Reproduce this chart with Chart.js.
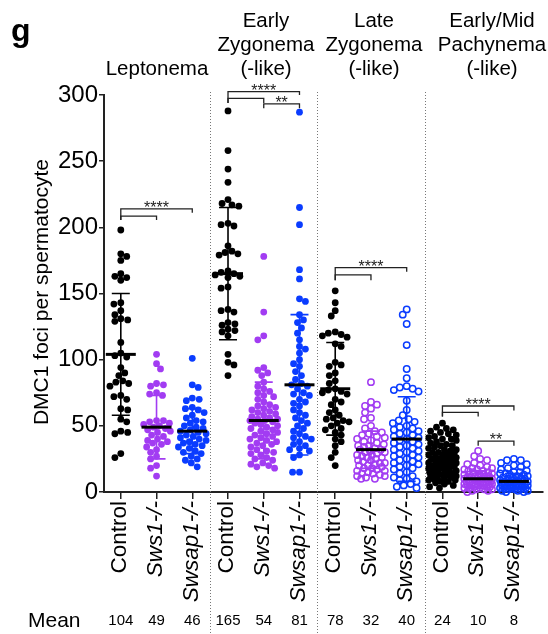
<!DOCTYPE html>
<html>
<head>
<meta charset="utf-8">
<script src="https://cdn.jsdelivr.net/npm/chart.js@4.4.0/dist/chart.umd.min.js"></script>
<style>
  html, body { margin: 0; padding: 0; background: #fff; }
  #wrap { width: 548px; height: 634px; }
</style>
</head>
<body>
<div id="wrap"><canvas id="dmc1Chart" width="548" height="634"></canvas></div>
<script>
// Stage headings and genotypes (3 columns per stage)
const stages = [['Leptonema'], ['Early', 'Zygonema', '(-like)'], ['Late', 'Zygonema', '(-like)'], ['Early/Mid', 'Pachynema', '(-like)']];
const genotypes = ['Control', 'Sws1-/-', 'Swsap1-/-'];
const means = [104, 49, 46, 165, 54, 81, 78, 32, 40, 24, 10, 8];
const sds = [46, 24, 17, 50, 29, 53, 35, 14, 32, 12, 6, 6];
const yTicks = [0, 50, 100, 150, 200, 250, 300];

// DMC1 foci per spermatocyte, one list per column
const leptoControl = [198, 180, 178, 175, 165, 163, 162, 160, 143, 142, 137, 134, 131, 130, 129, 113, 105, 103, 102, 94, 90, 88, 84, 83, 82, 80, 73, 72, 70, 63, 62, 55, 53, 46, 45, 44, 29, 26];
const leptoSws1 = [104, 97, 93, 82, 81, 80, 75, 74, 73, 54, 54, 53, 52, 51, 50, 49, 48, 47, 46, 45, 43, 42, 40, 39, 38, 37, 36, 34, 32, 30, 27, 25, 20, 18, 12];
const leptoSwsap1 = [101, 81, 79, 71, 70, 69, 64, 63, 62, 60, 58, 56, 54, 53, 52, 50, 49, 48, 47, 46, 45, 44, 43, 42, 41, 40, 39, 38, 37, 36, 35, 34, 33, 31, 30, 29, 27, 25, 24, 22, 19];
const ezControl = [288, 258, 244, 234, 221, 218, 217, 216, 203, 202, 201, 186, 182, 181, 180, 179, 167, 166, 165, 164, 163, 162, 155, 154, 138, 137, 136, 128, 127, 126, 123, 122, 121, 118, 104, 98, 96, 88];
const ezSws1 = [178, 136, 118, 115, 94, 92, 90, 88, 83, 80, 78, 76, 75, 73, 72, 70, 68, 66, 65, 64, 63, 62, 61, 60, 59, 58, 57, 56, 55, 55, 54, 54, 53, 52, 51, 50, 49, 48, 47, 46, 45, 44, 43, 42, 41, 40, 39, 38, 37, 36, 35, 34, 32, 31, 30, 29, 28, 26, 25, 24, 22, 21, 20, 19, 18];
const ezSwsap1 = [287, 215, 202, 168, 161, 146, 144, 134, 130, 128, 124, 120, 115, 110, 108, 105, 100, 97, 95, 91, 88, 85, 82, 81, 80, 78, 75, 74, 73, 70, 68, 67, 65, 62, 60, 58, 56, 54, 52, 50, 48, 46, 44, 42, 41, 40, 38, 36, 35, 33, 32, 31, 28, 26, 15, 15];
const lzControl = [152, 143, 137, 133, 121, 120, 119, 118, 117, 112, 110, 98, 96, 95, 90, 88, 84, 82, 78, 77, 76, 75, 74, 70, 68, 66, 62, 60, 58, 56, 55, 54, 53, 52, 50, 48, 47, 45, 43, 40, 38, 35, 30, 26, 20];
const lzSws1 = [83, 68, 66, 65, 63, 60, 56, 55, 50, 48, 46, 45, 44, 43, 42, 41, 40, 39, 38, 37, 36, 35, 35, 34, 33, 32, 32, 31, 30, 30, 29, 28, 28, 27, 26, 26, 25, 24, 24, 23, 22, 22, 21, 20, 20, 19, 18, 18, 17, 16, 16, 15, 14, 14, 13, 12, 12, 11, 10, 10];
const lzSwsap1 = [138, 134, 127, 111, 93, 86, 80, 79, 78, 77, 76, 69, 62, 58, 55, 54, 53, 52, 50, 49, 48, 47, 46, 45, 44, 43, 42, 41, 40, 39, 38, 37, 36, 35, 34, 33, 32, 31, 30, 29, 28, 27, 26, 25, 24, 23, 22, 21, 20, 19, 18, 17, 15, 14, 12, 11, 10, 9, 8, 6, 5, 4, 3];
const pachyControl = [52, 49, 48, 47, 46, 45, 44, 43, 42, 41, 40, 40, 39, 38, 37, 36, 35, 35, 34, 33, 32, 32, 31, 30, 30, 29, 29, 28, 28, 27, 27, 26, 26, 25, 25, 24, 24, 23, 23, 22, 22, 21, 21, 20, 20, 19, 19, 18, 18, 17, 17, 16, 16, 15, 15, 14, 14, 13, 13, 12, 12, 11, 11, 10, 10, 9, 9, 8, 8, 7, 6, 5, 4, 3];
const pachySws1 = [31, 27, 25, 24, 22, 21, 20, 19, 18, 18, 17, 17, 16, 16, 15, 15, 14, 14, 13, 13, 13, 12, 12, 12, 11, 11, 11, 10, 10, 10, 10, 9, 9, 9, 9, 8, 8, 8, 8, 7, 7, 7, 7, 6, 6, 6, 6, 5, 5, 5, 5, 4, 4, 4, 3, 3, 3, 2, 2, 2, 1, 1, 0];
const pachySwsap1 = [25, 24, 24, 22, 21, 20, 19, 18, 17, 16, 15, 15, 14, 14, 13, 13, 12, 12, 11, 11, 10, 10, 10, 9, 9, 9, 8, 8, 8, 8, 7, 7, 7, 7, 6, 6, 6, 6, 5, 5, 5, 5, 4, 4, 4, 4, 3, 3, 3, 3, 2, 2, 2, 1, 1, 1, 0, 0];

const columns = [leptoControl, leptoSws1, leptoSwsap1, ezControl, ezSws1, ezSwsap1,
                 lzControl, lzSws1, lzSwsap1, pachyControl, pachySws1, pachySwsap1];

// significance brackets: from column, to column, line level, left leg end, right leg end, label
const brackets = [
    [0, 2, 214, 205.5, 211, '****'],
    [0, 1, 208.5, 205.5, 205.5, ''],
    [3, 5, 302.5, 294, 300, '****'],
    [3, 4, 297.5, 294, 294, ''],
    [4, 5, 293.3, 290, 290, '**'],
    [6, 8, 169.5, 160, 166.5, '****'],
    [6, 7, 164, 160, 160, ''],
    [9, 11, 65, 57, 61.5, '****'],
    [9, 10, 60.2, 57, 57, ''],
    [10, 11, 38.4, 35, 35, '**']
];

const FONT = 'Arial, "Liberation Sans", sans-serif';
const colors = ['#000000', '#a23cf2', '#0a3cff'];
const openMarker = [false, false, false, false, false, false, false, true, true, false, true, true];

// rough pixel scales, only used for laying out the dot swarm
const Y_PX = 397 / 300;
const X_PX = 36.2;
const DOT_GAP = 6.4;
const SWARM_HALF = 14;

function swarmOffsets(values) {
    const order = values.map((v, i) => i).sort((a, b) => values[b] - values[a]);
    const placed = [];
    const offsets = new Array(values.length).fill(0);
    order.forEach(i => {
        const y = values[i] * Y_PX;
        let best = 0, bestGap = -1, found = false;
        for (let k = 0; k <= SWARM_HALF && !found; k++) {
            const dirs = k === 0 ? [0] : (placed.length % 2 ? [-k, k] : [k, -k]);
            for (const s of dirs) {
                let gap = Infinity;
                placed.forEach(p => {
                    const d = Math.hypot(p.x - s, p.y - y);
                    if (d < gap) gap = d;
                });
                if (gap >= DOT_GAP) { best = s; found = true; break; }
                if (gap > bestGap) { bestGap = gap; best = s; }
            }
        }
        offsets[i] = best;
        placed.push({ x: best, y: y });
    });
    return offsets;
}

const datasets = columns.map((vals, i) => {
    const offs = swarmOffsets(vals);
    const col = colors[i % 3];
    return {
        data: vals.map((v, j) => ({ x: i + offs[j] / X_PX, y: v })),
        pointRadius: openMarker[i] ? 3.2 : 3.4,
        pointBackgroundColor: openMarker[i] ? 'rgba(255,255,255,0)' : col,
        pointBorderColor: col,
        pointBorderWidth: openMarker[i] ? 1.5 : 0,
        clip: false
    };
});

const overlayPlugin = {
    id: 'overlay',
    afterDatasetsDraw(chart) {
        const ctx = chart.ctx;
        const xs = chart.scales.x, ys = chart.scales.y;
        ctx.save();
        // SD error bars and mean lines
        means.forEach((m, i) => {
            const x = xs.getPixelForValue(i);
            const yTop = ys.getPixelForValue(m + sds[i]);
            const yBot = ys.getPixelForValue(Math.max(0, m - sds[i]));
            ctx.strokeStyle = colors[i % 3];
            ctx.lineWidth = 1.6;
            ctx.beginPath();
            ctx.moveTo(x, yTop); ctx.lineTo(x, yBot);
            ctx.moveTo(x - 9, yTop); ctx.lineTo(x + 9, yTop);
            ctx.moveTo(x - 9, yBot); ctx.lineTo(x + 9, yBot);
            ctx.stroke();
            const ym = ys.getPixelForValue(m);
            ctx.strokeStyle = '#000';
            ctx.lineWidth = 3;
            ctx.beginPath();
            ctx.moveTo(x - 15, ym); ctx.lineTo(x + 15, ym);
            ctx.stroke();
        });
        // significance brackets
        ctx.strokeStyle = '#222';
        ctx.lineWidth = 1.3;
        ctx.fillStyle = '#222';
        ctx.font = '16px ' + FONT;
        ctx.textAlign = 'center';
        ctx.textBaseline = 'alphabetic';
        brackets.forEach(b => {
            const x1 = xs.getPixelForValue(b[0]), x2 = xs.getPixelForValue(b[1]);
            const y = ys.getPixelForValue(b[2]);
            ctx.beginPath();
            ctx.moveTo(x1, ys.getPixelForValue(b[3]));
            ctx.lineTo(x1, y);
            ctx.lineTo(x2, y);
            ctx.lineTo(x2, ys.getPixelForValue(b[4]));
            ctx.stroke();
            if (b[5]) ctx.fillText(b[5], (x1 + x2) / 2, y + 4);
        });
        ctx.restore();
    },
    afterDraw(chart) {
        const ctx = chart.ctx;
        const xs = chart.scales.x, ys = chart.scales.y;
        ctx.save();
        // dotted separators between stages
        ctx.strokeStyle = '#777';
        ctx.lineWidth = 1;
        ctx.setLineDash([1, 2]);
        [2.5, 5.5, 8.5].forEach(v => {
            const x = Math.round(xs.getPixelForValue(v)) + 0.5;
            ctx.beginPath();
            ctx.moveTo(x, 92); ctx.lineTo(x, 634);
            ctx.stroke();
        });
        ctx.setLineDash([]);

        ctx.fillStyle = '#000';
        // panel letter
        ctx.font = 'bold 32px ' + FONT;
        ctx.textAlign = 'left';
        ctx.textBaseline = 'alphabetic';
        ctx.fillText('g', 11, 41);

        // stage headings
        ctx.font = '20.5px ' + FONT;
        ctx.textAlign = 'center';
        ctx.textBaseline = 'middle';
        const headX = [157, 266, 374, 492];
        stages.forEach((lines, s) => {
            const startY = 69 - (lines.length - 1) * 24;
            lines.forEach((t, k) => ctx.fillText(t, headX[s], startY + k * 24));
        });

        // y axis title
        ctx.save();
        ctx.translate(42, 292);
        ctx.rotate(-Math.PI / 2);
        ctx.font = '21px ' + FONT;
        ctx.fillText('DMC1 foci per spermatocyte', 0, 0);
        ctx.restore();

        // genotype labels, rotated
        columns.forEach((c, i) => {
            const x = xs.getPixelForValue(i);
            ctx.save();
            ctx.translate(x - 1, 501);
            ctx.rotate(-Math.PI / 2);
            ctx.font = (i % 3 ? 'italic ' : '') + '22.5px ' + FONT;
            ctx.textAlign = 'right';
            ctx.textBaseline = 'middle';
            ctx.fillText(genotypes[i % 3], 0, 0);
            ctx.restore();
        });

        // mean row
        ctx.textBaseline = 'middle';
        ctx.textAlign = 'left';
        ctx.font = '21px ' + FONT;
        ctx.fillText('Mean', 28, 621);
        ctx.textAlign = 'center';
        ctx.font = '15px ' + FONT;
        means.forEach((m, i) => ctx.fillText(String(m), xs.getPixelForValue(i), 621));
        ctx.restore();
    }
};

const chart = new Chart(document.getElementById('dmc1Chart'), {
    type: 'scatter',
    data: { datasets: datasets },
    options: {
        responsive: false,
        animation: false,
        devicePixelRatio: 1,
        layout: { padding: { top: 95, left: 0, right: 0, bottom: 0 } },
        plugins: { legend: { display: false }, tooltip: { enabled: false } },
        scales: {
            x: {
                type: 'linear',
                min: -0.47,
                max: 11.8,
                afterBuildTicks: s => { s.ticks = columns.map((c, i) => ({ value: i })); },
                ticks: { display: false },
                grid: { drawOnChartArea: false, drawTicks: true, tickLength: 7, color: '#222', lineWidth: 1.5 },
                border: { color: '#222', width: 2 },
                afterFit: s => { s.height = 142; }
            },
            y: {
                min: 0,
                max: 300,
                afterBuildTicks: s => { s.ticks = yTicks.map(v => ({ value: v })); },
                ticks: { font: { family: FONT, size: 24 }, color: '#000', padding: 1 },
                grid: { drawOnChartArea: false, drawTicks: true, tickLength: 5, color: '#222', lineWidth: 1.5 },
                border: { color: '#222', width: 2 },
                afterFit: s => { s.width = 104; }
            }
        }
    },
    plugins: [overlayPlugin]
});
</script>
</body>
</html>
